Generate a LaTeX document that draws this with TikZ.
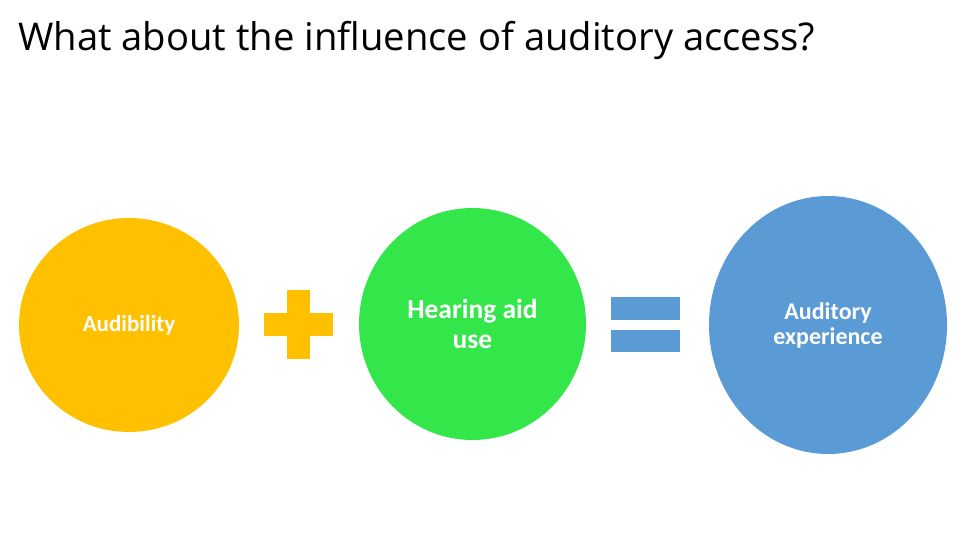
\documentclass[tikz,border=0pt]{standalone}
\usepackage{fontspec}
\setmainfont{Carlito}
\newfontfamily\titlefont{Open Sans}
\usetikzlibrary{shapes.geometric}

\definecolor{amber}{HTML}{FFC000}
\definecolor{lime}{HTML}{33E64A}
\definecolor{steel}{HTML}{5B9BD5}

\tikzset{
    blob/.style={ellipse, inner sep=0pt, text=white, font=\bfseries, align=center},
    bar/.style={inner sep=0pt, outer sep=0pt}
}

\begin{document}
\begin{tikzpicture}[x=1pt, y=-1pt]

        % ==== FRAME ====
        \useasboundingbox (0,0) rectangle (960,540);

        % ==== TITLE ====
        \node[anchor=base west, inner sep=0pt, font=\titlefont\fontsize{38.2}{44}\selectfont] (title) at (18,51)
            {What about the influence of auditory access?};

        % ==== CIRCLES ====
        \node[blob, fill=amber, minimum width=220pt, minimum height=214pt,
              font=\bfseries\fontsize{23}{26}\selectfont] (audib) at (129,325) {Audibility};
        \node[blob, fill=lime, minimum width=227pt, minimum height=232pt,
              font=\bfseries\fontsize{27.5}{30}\selectfont] (aid) at (472.5,324) {Hearing aid\\use};
        \node[blob, fill=steel, minimum width=238pt, minimum height=258pt,
              font=\bfseries\fontsize{24}{25}\selectfont] (exper) at (828,325) {Auditory\\experience};

        % ==== PLUS ====
        \fill[amber] (287,290) rectangle (310,359);
        \fill[amber] (264,313) rectangle (333,336);

        % ==== EQUALS ====
        \fill[steel] (611,297) rectangle (680,320);
        \fill[steel] (611,330) rectangle (680,352);

    \end{tikzpicture}
\end{document}
